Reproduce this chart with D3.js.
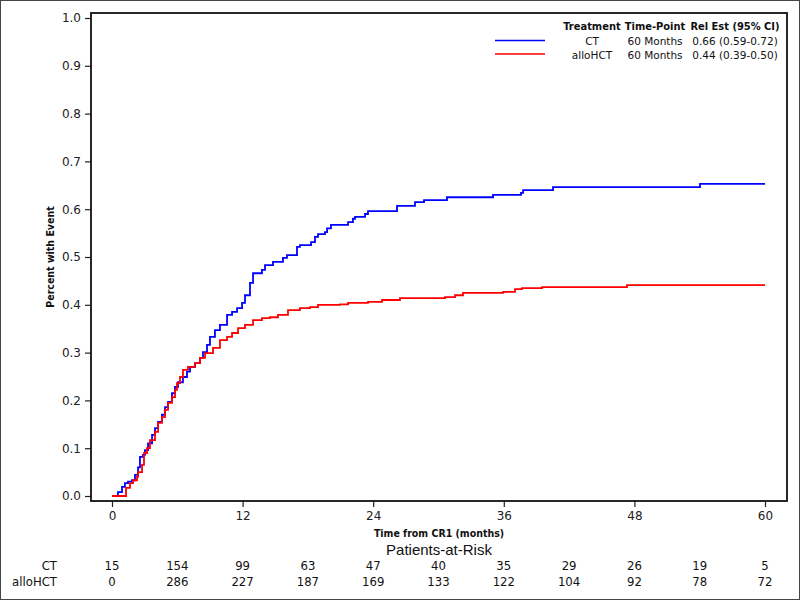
<!DOCTYPE html>
<html><head><meta charset="utf-8">
<script src="https://cdn.jsdelivr.net/npm/d3@7"></script>
<style>body{margin:0;background:#fff}svg{display:block}</style>
</head><body>
<svg id="c" width="800" height="600"></svg>
<script>
// CT curve (months, cumulative incidence)
const ctTime = [0,0.55,0.92,1.19,1.47,1.84,2.11,2.39,2.57,2.85,3.03,3.31,3.68,3.95,4.23,4.59,4.87,5.15,5.51,5.79,6.06,6.52,6.89,7.17,7.63,8.09,8.36,8.73,9.00,9.46,9.92,10.57,11.03,11.49,11.95,12.22,12.68,12.96,13.78,14.06,14.79,15.71,16.08,17.00,17.27,18.29,18.65,18.93,19.57,19.76,20.12,21.69,22.14,22.33,23.25,23.52,26.19,27.84,28.67,30.78,35.01,37.58,37.77,40.52,54.03,60];
const ctValue = [0,0.008,0.019,0.027,0.030,0.033,0.044,0.060,0.082,0.086,0.096,0.110,0.128,0.142,0.155,0.170,0.186,0.197,0.215,0.228,0.238,0.249,0.260,0.270,0.278,0.289,0.301,0.316,0.333,0.347,0.358,0.379,0.385,0.393,0.404,0.420,0.446,0.466,0.473,0.483,0.490,0.498,0.504,0.521,0.525,0.531,0.542,0.548,0.552,0.560,0.567,0.573,0.580,0.584,0.590,0.596,0.607,0.615,0.619,0.625,0.630,0.634,0.640,0.646,0.653,0.653];
// alloHCT curve
const hctTime = [0,1.29,1.65,1.93,2.30,2.39,2.76,2.94,3.22,3.49,3.95,4.23,4.59,4.87,5.15,5.51,5.79,5.97,6.25,6.52,6.98,7.63,8.09,8.55,9.28,9.92,10.57,11.03,11.58,12.22,12.96,13.78,14.52,15.25,16.17,17.27,18.19,18.93,20.95,21.69,23.52,24.81,26.46,30.60,31.52,32.25,35.93,37.03,37.67,39.51,47.32,60];
const hctValue = [0,0.017,0.027,0.033,0.040,0.050,0.065,0.090,0.100,0.117,0.134,0.153,0.165,0.180,0.195,0.207,0.222,0.236,0.249,0.264,0.270,0.278,0.289,0.299,0.310,0.326,0.333,0.341,0.351,0.358,0.368,0.372,0.374,0.379,0.389,0.393,0.395,0.400,0.401,0.404,0.406,0.410,0.414,0.416,0.420,0.425,0.427,0.433,0.435,0.437,0.441,0.441];

const xTicks = [0,12,24,36,48,60];
const yTicks = [0,0.1,0.2,0.3,0.4,0.5,0.6,0.7,0.8,0.9,1.0];
const riskTimes = [0,6,12,18,24,30,36,42,48,54,60];
const ctRisk = [15,154,99,63,47,40,35,29,26,19,5];
const hctRisk = [0,286,227,187,169,133,122,104,92,78,72];
const groups = ["CT","alloHCT"];
const groupColors = ["#0000ff","#ff0000"];
const legendHeader = ["Treatment","Time-Point","Rel Est (95% CI)"];
const legendTimePoint = ["60 Months","60 Months"];
const legendEst = ["0.66 (0.59-0.72)","0.44 (0.39-0.50)"];

const svg = d3.select("#c");
const F = "'DejaVu Sans', sans-serif";
const FC = "'DejaVu Sans Condensed','DejaVu Sans', sans-serif";
const FN = "'Liberation Sans Narrow','DejaVu Sans Condensed', sans-serif";

// outer border
svg.append("rect").attr("x",0.5).attr("y",0.5).attr("width",799).attr("height",599)
  .attr("fill","none").attr("stroke","#444").attr("stroke-width",1);

const L=91, R=787, T=13, B=501;
const x = d3.scaleLinear().domain([0,60]).range([112,765]);
const y = d3.scaleLinear().domain([0,1]).range([496,18]);

// axes
const yAxis = d3.axisLeft(y).tickValues(yTicks).tickFormat(d3.format(".1f")).tickSize(6).tickPadding(4);
const gy = svg.append("g").attr("transform",`translate(${L},0)`).call(yAxis);
gy.select(".domain").remove();
gy.selectAll("text").attr("font-family",F).attr("font-size",12).attr("fill","#222");
gy.selectAll("line").attr("stroke","#222").attr("stroke-width",1.2);

const xAxis = d3.axisBottom(x).tickValues(xTicks).tickFormat(d3.format("d")).tickSize(6).tickPadding(4);
const gx = svg.append("g").attr("transform",`translate(0,${B})`).call(xAxis);
gx.select(".domain").remove();
gx.selectAll("text").attr("font-family",F).attr("font-size",12).attr("fill","#222");
gx.selectAll("line").attr("stroke","#222").attr("stroke-width",1.2);

// curves
const series = [
  {t:ctTime, v:ctValue, c:groupColors[0]},
  {t:hctTime, v:hctValue, c:groupColors[1]}
];
const line = d3.line().curve(d3.curveStepAfter).x(d=>x(d[0])).y(d=>y(d[1]));
series.forEach(s=>{
  const pts = s.t.map((t,i)=>[t,s.v[i]]);
  svg.append("path").attr("d",line(pts)).attr("fill","none").attr("stroke",s.c).attr("stroke-width",1.8);
});

// frame
svg.append("rect").attr("x",L).attr("y",T).attr("width",R-L).attr("height",B-T)
  .attr("fill","none").attr("stroke","#111").attr("stroke-width",1.8);

// axis titles
svg.append("text").attr("x",(L+R)/2).attr("y",537).attr("text-anchor","middle")
  .attr("font-family",FC).attr("font-weight","bold").attr("font-size",10.5).attr("fill","#111")
  .text("Time from CR1 (months)");
svg.append("text").attr("transform",`translate(54,${(18+496)/2}) rotate(-90)`).attr("text-anchor","middle")
  .attr("font-family",FC).attr("font-weight","bold").attr("font-size",10.5).attr("fill","#111")
  .text("Percent with Event");

// at-risk
svg.append("text").attr("x",(L+R)/2).attr("y",555).attr("text-anchor","middle")
  .attr("font-family","'Liberation Sans',Arial,sans-serif").attr("font-size",15).attr("fill","#111")
  .text("Patients-at-Risk");
[ctRisk,hctRisk].forEach((arr,gi)=>{
  const yy = 570 + gi*16;
  svg.append("text").attr("x",57).attr("y",yy).attr("text-anchor","end")
    .attr("font-family",FN).attr("font-size",13).attr("fill","#111").text(groups[gi]);
  svg.selectAll(null).data(arr).enter().append("text")
    .attr("x",(d,i)=>x(riskTimes[i])).attr("y",yy).attr("text-anchor","middle")
    .attr("font-family",FN).attr("font-size",13).attr("fill","#111").text(d=>d);
});

// legend
const colX = [592,655,735];
legendHeader.forEach((h,i)=>{
  svg.append("text").attr("x",colX[i]).attr("y",30).attr("text-anchor","middle")
    .attr("font-family",FC).attr("font-weight","bold").attr("font-size",11).attr("fill","#111").text(h);
});
groups.forEach((g,i)=>{
  const yy = 45 + i*13.5;
  svg.append("line").attr("x1",495).attr("x2",545).attr("y1",yy-4.5).attr("y2",yy-4.5)
    .attr("stroke",groupColors[i]).attr("stroke-width",1.6);
  [g,legendTimePoint[i],legendEst[i]].forEach((t,j)=>{
    svg.append("text").attr("x",colX[j]).attr("y",yy).attr("text-anchor","middle")
      .attr("font-family",F).attr("font-size",10.5).attr("fill","#111").text(t);
  });
});
</script>
</body></html>
